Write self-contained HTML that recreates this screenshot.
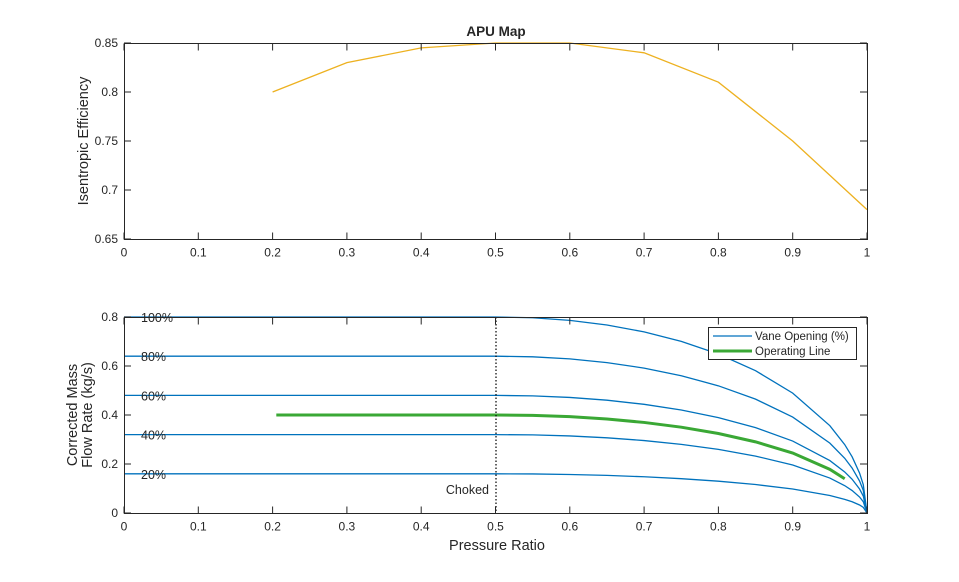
<!DOCTYPE html>
<html><head><style>
body{margin:0;background:#fff;}
svg text{font-family:"Liberation Sans",Arial,sans-serif;fill:#262626;}
</style></head><body>
<svg id="s" width="959" height="577" xmlns="http://www.w3.org/2000/svg">
<rect width="959" height="577" fill="#fff"/>
<text x="496" y="36" font-size="13.5" font-weight="bold" text-anchor="middle">APU Map</text>
<g id="top"></g>
<g id="bot"></g>
</svg>
<script>
const NS="http://www.w3.org/2000/svg";
function el(p,t,a,txt){const e=document.createElementNS(NS,t);for(const k in a)e.setAttribute(k,a[k]);if(txt!==undefined)e.textContent=txt;p.appendChild(e);return e;}
const L=124,R=867;
const X=p=>L+p*(R-L);
function axes(g,T,B,yt,fy){
 for(let i=0;i<=10;i++){const x=X(i/10);
  el(g,"line",{x1:x,x2:x,y1:B,y2:B-7,stroke:"#262626","stroke-width":1});
  el(g,"line",{x1:x,x2:x,y1:T,y2:T+7,stroke:"#262626","stroke-width":1});
  el(g,"text",{x:x,y:B+17,"font-size":12,"text-anchor":"middle"},i==0?"0":i==10?"1":(i/10).toString());}
 yt.forEach(v=>{const y=fy(v[0]);
  el(g,"line",{x1:L,x2:L+7,y1:y,y2:y,stroke:"#262626"});
  el(g,"line",{x1:R,x2:R-7,y1:y,y2:y,stroke:"#262626"});
  el(g,"text",{x:L-6,y:y+4,"font-size":12,"text-anchor":"end"},v[1]);});
}
const gt=document.getElementById("top");
const fyt=v=>239-(v-0.65)*980;
const ed=[[.2,.8],[.3,.83],[.4,.845],[.5,.85],[.6,.85],[.7,.84],[.8,.81],[.9,.75],[1,.68]];
el(gt,"polyline",{points:ed.map(d=>X(d[0])+","+fyt(d[1])).join(" "),fill:"none",stroke:"#EDB120","stroke-width":1.3});
el(gt,"rect",{x:L+.5,y:43.5,width:R-L,height:196,fill:"none",stroke:"#262626"});
axes(gt,43.5,239.5,[[.65,"0.65"],[.7,"0.7"],[.75,"0.75"],[.8,"0.8"],[.85,"0.85"]],fyt);
el(gt,"text",{x:0,y:0,"font-size":14.5,"text-anchor":"middle",transform:"translate(88,141) rotate(-90)"},"Isentropic Efficiency");
const gb=document.getElementById("bot");
const fyb=v=>513-v*245;
function f(p){if(p<=0.5)return 1;const t=(p-0.5)/0.5;return Math.sqrt(Math.max(0,1-Math.pow(t,2.1)));}
const ps=[0,0.5,0.55,0.6,0.65,0.7,0.75,0.8,0.85,0.9,0.95,0.97,0.98,0.99,0.995,1];
function pts(m,p0,p1){let a=ps.filter(p=>p>p0&&p<p1);a=[p0,...a,p1];return a.map(p=>X(p).toFixed(2)+","+fyb(m*f(p)).toFixed(2)).join(" ");}
[0.16,0.32,0.48,0.64,0.8].forEach((m,i)=>{
 el(gb,"polyline",{points:pts(m,0,1),fill:"none",stroke:"#0072BD","stroke-width":1.3});
 el(gb,"text",{x:141,y:fyb(m)+5,"font-size":12.5},((i+1)*20)+"%");
});
el(gb,"polyline",{points:pts(0.4,0.205,0.97),fill:"none",stroke:"#3AA835","stroke-width":3});
el(gb,"line",{x1:496,x2:496,y1:317,y2:513,stroke:"#000","stroke-width":1.2,"stroke-dasharray":"1.5,2"});
el(gb,"text",{x:489,y:494,"font-size":12.5,"text-anchor":"end"},"Choked");
el(gb,"rect",{x:L+.5,y:317.5,width:R-L,height:196,fill:"none",stroke:"#262626"});
axes(gb,317.5,513.5,[[0,"0"],[.2,"0.2"],[.4,"0.4"],[.6,"0.6"],[.8,"0.8"]],fyb);
el(gb,"text",{x:497,y:550,"font-size":14.5,"text-anchor":"middle"},"Pressure Ratio");
el(gb,"text",{x:0,y:0,"font-size":14.5,"text-anchor":"middle",transform:"translate(77,415) rotate(-90)"},"Corrected Mass");
el(gb,"text",{x:0,y:0,"font-size":14.5,"text-anchor":"middle",transform:"translate(92,415) rotate(-90)"},"Flow Rate  (kg/s)");
el(gb,"rect",{x:708.5,y:327.5,width:148,height:32,fill:"#fff",stroke:"#262626"});
el(gb,"line",{x1:713,x2:752,y1:336,y2:336,stroke:"#0072BD","stroke-width":1.3});
el(gb,"line",{x1:713,x2:752,y1:351,y2:351,stroke:"#3AA835","stroke-width":3});
el(gb,"text",{x:755,y:340,"font-size":11.5},"Vane Opening (%)");
el(gb,"text",{x:755,y:355,"font-size":11.5},"Operating Line");
</script>
</body></html>
